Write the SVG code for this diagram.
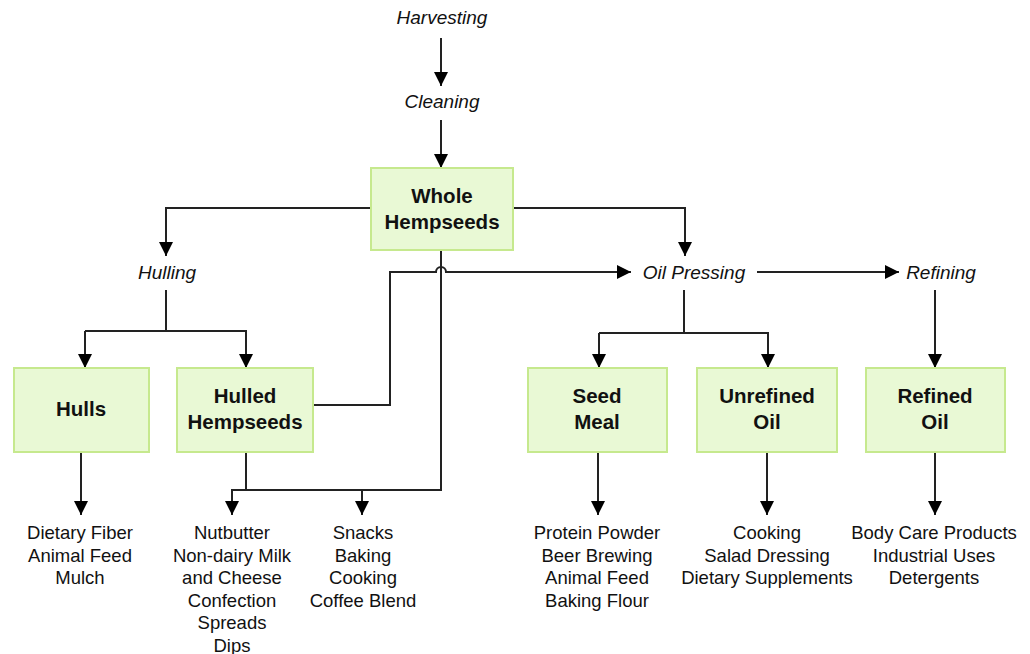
<svg xmlns="http://www.w3.org/2000/svg" width="1030" height="654" viewBox="0 0 1030 654">
<defs>
<style>
text{font-family:"Liberation Sans",Arial,sans-serif;fill:#111;text-anchor:middle}
.st{font-size:19px;font-style:italic}
.lbl{font-size:20.5px;font-weight:bold}
.lst{font-size:18.5px}
.box{fill:#e9f9d5;stroke:#c6e98e;stroke-width:2}
.c{fill:none;stroke:#222;stroke-width:2}
.a{marker-end:url(#ah)}
</style>
<marker id="ah" markerUnits="userSpaceOnUse" markerWidth="14" markerHeight="14" viewBox="0 0 12 12" refX="12" refY="6" orient="auto">
<path d="M0,0 L12,6 L0,12 z" fill="#000"/>
</marker>
</defs>
<rect width="1030" height="654" fill="#fff"/>
<g id="connectors">
<path class="c a" d="M441,38 V86"/>
<path class="c a" d="M441,120 V168"/>
<path class="c a" d="M371,208 H166 V256"/>
<path class="c a" d="M513,208 H685 V256"/>
<path class="c a" d="M757,272 H899"/>
<path class="c" d="M166,290 V331"/>
<path class="c a" d="M85,331 V368"/>
<path class="c a" d="M85,331 H246 V368"/>
<path class="c" d="M684,290 V333"/>
<path class="c a" d="M599,333 V368"/>
<path class="c a" d="M599,333 H768 V368"/>
<path class="c a" d="M935,290 V368"/>
<path class="c a" d="M81,452 V515"/>
<path class="c" d="M246,452 V490"/>
<path class="c a" d="M441,250 V490 H232 V515"/>
<path class="c a" d="M362,490 V515"/>
<path class="c a" d="M313,405 H390 V272 H436 A5,5 0 0 1 446,272 H631"/>
<path class="c a" d="M598,452 V515"/>
<path class="c a" d="M767,452 V515"/>
<path class="c a" d="M935,452 V515"/>
</g>
<g id="harvesting"><text class="st" x="442" y="24">Harvesting</text></g>
<g id="cleaning"><text class="st" x="442" y="108">Cleaning</text></g>
<g id="whole">
<rect class="box" x="371" y="168" width="142" height="82"/>
<text class="lbl" x="442" y="203">Whole</text>
<text class="lbl" x="442" y="229">Hempseeds</text>
</g>
<g id="hulling"><text class="st" x="167" y="279">Hulling</text></g>
<g id="oilpressing"><text class="st" x="694" y="279">Oil Pressing</text></g>
<g id="refining"><text class="st" x="941" y="279">Refining</text></g>
<g id="hulls">
<rect class="box" x="14" y="368" width="135" height="84"/>
<text class="lbl" x="81" y="416">Hulls</text>
</g>
<g id="hulled">
<rect class="box" x="177" y="368" width="136" height="84"/>
<text class="lbl" x="245" y="403">Hulled</text>
<text class="lbl" x="245" y="429">Hempseeds</text>
</g>
<g id="seedmeal">
<rect class="box" x="528" y="368" width="139" height="84"/>
<text class="lbl" x="597" y="403">Seed</text>
<text class="lbl" x="597" y="429">Meal</text>
</g>
<g id="unrefined">
<rect class="box" x="697" y="368" width="140" height="84"/>
<text class="lbl" x="767" y="403">Unrefined</text>
<text class="lbl" x="767" y="429">Oil</text>
</g>
<g id="refined">
<rect class="box" x="866" y="368" width="139" height="84"/>
<text class="lbl" x="935" y="403">Refined</text>
<text class="lbl" x="935" y="429">Oil</text>
</g>
<g id="hulls-uses">
<text class="lst" x="80" y="539">Dietary Fiber</text>
<text class="lst" x="80" y="561.5">Animal Feed</text>
<text class="lst" x="80" y="584">Mulch</text>
</g>
<g id="hulled-uses">
<text class="lst" x="232" y="539">Nutbutter</text>
<text class="lst" x="232" y="561.5">Non-dairy Milk</text>
<text class="lst" x="232" y="584">and Cheese</text>
<text class="lst" x="232" y="606.5">Confection</text>
<text class="lst" x="232" y="629">Spreads</text>
<text class="lst" x="232" y="651.5">Dips</text>
</g>
<g id="whole-uses">
<text class="lst" x="363" y="539">Snacks</text>
<text class="lst" x="363" y="561.5">Baking</text>
<text class="lst" x="363" y="584">Cooking</text>
<text class="lst" x="363" y="606.5">Coffee Blend</text>
</g>
<g id="meal-uses">
<text class="lst" x="597" y="539">Protein Powder</text>
<text class="lst" x="597" y="561.5">Beer Brewing</text>
<text class="lst" x="597" y="584">Animal Feed</text>
<text class="lst" x="597" y="606.5">Baking Flour</text>
</g>
<g id="unrefined-uses">
<text class="lst" x="767" y="539">Cooking</text>
<text class="lst" x="767" y="561.5">Salad Dressing</text>
<text class="lst" x="767" y="584">Dietary Supplements</text>
</g>
<g id="refined-uses">
<text class="lst" x="934" y="539">Body Care Products</text>
<text class="lst" x="934" y="561.5">Industrial Uses</text>
<text class="lst" x="934" y="584">Detergents</text>
</g>
</svg>
